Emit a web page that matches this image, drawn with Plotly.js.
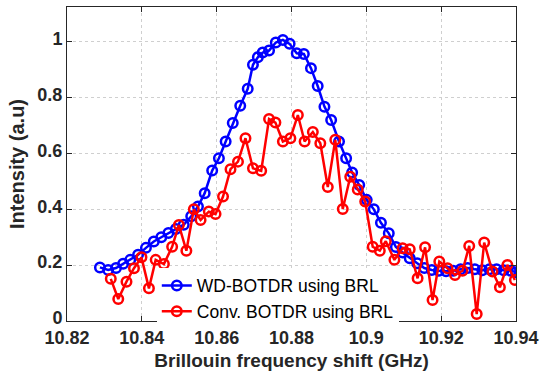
<!DOCTYPE html>
<html>
<head>
<meta charset="utf-8">
<script src="https://cdn.plot.ly/plotly-3.0.1.min.js"></script>
<style>html,body{margin:0;padding:0;background:#fff;}#chart{width:540px;height:379px;}</style>
</head>
<body>
<div id="chart"></div>
<script>
// WD-BOTDR using BRL (blue)
var wdX = [10.8288, 10.8310, 10.8331, 10.8350, 10.8369, 10.8390, 10.8411, 10.8432, 10.8452, 10.8471,
           10.8491, 10.8512, 10.8532, 10.8550, 10.8568, 10.8588, 10.8606, 10.8624, 10.8643, 10.8663,
           10.8683, 10.8697, 10.8710, 10.8723, 10.8740, 10.8758, 10.8777, 10.8795, 10.8814, 10.8833,
           10.8852, 10.8870, 10.8888, 10.8906, 10.8927, 10.8946, 10.8962, 10.8981, 10.9001, 10.9020,
           10.9039, 10.9060, 10.9079, 10.9097, 10.9116, 10.9136, 10.9155, 10.9175, 10.9194, 10.9213,
           10.9232, 10.9252, 10.9271, 10.9290, 10.9310, 10.9329, 10.9348, 10.9367, 10.9386, 10.9400];
var wdY = [0.192, 0.183, 0.190, 0.205, 0.219, 0.237, 0.262, 0.285, 0.300, 0.315,
           0.330, 0.345, 0.375, 0.410, 0.458, 0.539, 0.583, 0.643, 0.709, 0.771,
           0.832, 0.918, 0.945, 0.962, 0.969, 0.998, 1.007, 0.993, 0.959, 0.957,
           0.906, 0.842, 0.768, 0.720, 0.643, 0.583, 0.532, 0.487, 0.434, 0.400,
           0.352, 0.314, 0.265, 0.245, 0.225, 0.207, 0.190, 0.183, 0.180, 0.178,
           0.180, 0.185, 0.190, 0.185, 0.182, 0.185, 0.185, 0.182, 0.180, 0.175];

// Conv. BOTDR using BRL (red)
var convX = [10.8317, 10.8337, 10.8359, 10.8379, 10.8399, 10.8419, 10.8437, 10.8459, 10.8481, 10.8499,
             10.8519, 10.8539, 10.8557, 10.8579, 10.8597, 10.8617, 10.8637, 10.8657, 10.8677, 10.8697,
             10.8719, 10.8740, 10.8757, 10.8777, 10.8797, 10.8817, 10.8835, 10.8857, 10.8877, 10.8897,
             10.8917, 10.8937, 10.8957, 10.8977, 10.8997, 10.9017, 10.9036, 10.9052, 10.9075, 10.9097,
             10.9116, 10.9137, 10.9157, 10.9177, 10.9195, 10.9217, 10.9237, 10.9257, 10.9275, 10.9295,
             10.9315, 10.9337, 10.9357, 10.9377, 10.9397];
var convY = [0.151, 0.079, 0.141, 0.189, 0.228, 0.117, 0.219, 0.204, 0.266, 0.344,
             0.252, 0.400, 0.362, 0.392, 0.383, 0.446, 0.544, 0.571, 0.655, 0.547,
             0.538, 0.724, 0.711, 0.643, 0.655, 0.738, 0.643, 0.677, 0.637, 0.480,
             0.649, 0.401, 0.517, 0.471, 0.428, 0.266, 0.252, 0.286, 0.219, 0.261,
             0.257, 0.153, 0.264, 0.075, 0.213, 0.189, 0.165, 0.180, 0.269, 0.025,
             0.281, 0.177, 0.121, 0.201, 0.147];

var xTickVals = [10.82, 10.84, 10.86, 10.88, 10.9, 10.92, 10.94];
var xTickText = ["10.82", "10.84", "10.86", "10.88", "10.9", "10.92", "10.94"];
var yTickVals = [0, 0.2, 0.4, 0.6, 0.8, 1];
var yTickText = ["0", "0.2", "0.4", "0.6", "0.8", "1"];
var seriesNames = ["WD-BOTDR using BRL", "Conv. BOTDR using BRL"];

var textColor = '#262626';
var fontFam = 'Liberation Sans, Arial, sans-serif';

var traces = [
  {x: wdX, y: wdY, name: seriesNames[0], type: 'scatter', mode: 'lines+markers',
   line: {color: '#0000ff', width: 2.5},
   marker: {symbol: 'circle-open', size: 9.5, color: '#0000ff', line: {width: 2.5, color: '#0000ff'}}},
  {x: convX, y: convY, name: seriesNames[1], type: 'scatter', mode: 'lines+markers',
   line: {color: '#ff0000', width: 2.5},
   marker: {symbol: 'circle-open', size: 9.5, color: '#ff0000', line: {width: 2.5, color: '#ff0000'}}}
];

var axisCommon = {
  showline: true, linecolor: textColor, linewidth: 1, mirror: 'allticks',
  ticks: 'inside', ticklen: 5, tickwidth: 1, tickcolor: textColor,
  showgrid: true, gridcolor: '#cfcfcf', gridwidth: 1, griddash: 'dot',
  zeroline: false,
  tickfont: {family: fontFam, size: 18, color: textColor, weight: 'bold'}
};

var layout = {
  width: 540, height: 379,
  margin: {l: 67, r: 24, t: 7, b: 58},
  paper_bgcolor: '#ffffff', plot_bgcolor: '#ffffff',
  showlegend: true,
  legend: {x: 0.2, y: 0.17, xanchor: 'left', yanchor: 'top',
           bgcolor: '#ffffff', borderwidth: 0,
           font: {family: fontFam, size: 17.5, color: '#000000'},
           tracegroupgap: 0, itemwidth: 30},
  xaxis: Object.assign({}, axisCommon, {
    range: [10.82, 10.94], tickmode: 'array', tickvals: xTickVals, ticktext: xTickText,
    ticklabelstandoff: 0,
    title: {text: 'Brillouin frequency shift (GHz)', standoff: 7,
            font: {family: fontFam, size: 19, color: textColor, weight: 'bold'}}
  }),
  yaxis: Object.assign({}, axisCommon, {
    range: [0, 1.125], tickmode: 'array', tickvals: yTickVals, ticktext: yTickText,
    ticklabelshift: -3,
    title: {text: 'Intensity (a.u)', standoff: 7,
            font: {family: fontFam, size: 20, color: textColor, weight: 'bold'}}
  })
};

Plotly.newPlot('chart', traces, layout, {displayModeBar: false, staticPlot: true});
</script>
</body>
</html>
